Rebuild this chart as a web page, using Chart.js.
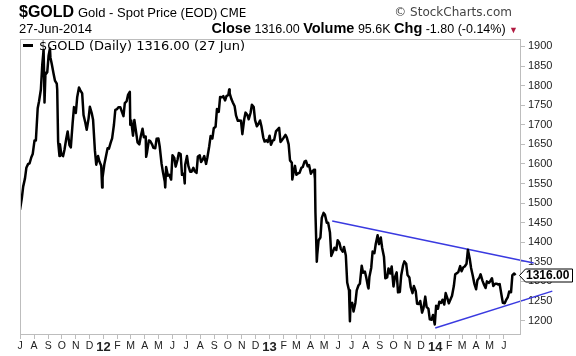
<!DOCTYPE html>
<html><head><meta charset="utf-8">
<script src="https://cdn.jsdelivr.net/npm/chart.js@4.4.1/dist/chart.umd.min.js"></script>
<style>
html,body{margin:0;padding:0;background:#fff;}
#wrap{position:relative;width:576px;height:356px;overflow:hidden;background:#fff;}
#c{position:absolute;left:0;top:0;}
.t{position:absolute;white-space:nowrap;font-family:"Liberation Sans",Arial,sans-serif;color:#000;line-height:1;}
</style></head><body>
<div id="wrap">
<canvas id="c" width="576" height="356"></canvas>
<div class="t" style="left:19px;top:4px;font-size:16px;font-weight:bold">$GOLD</div>
<div class="t" style="left:78px;top:6px;font-size:13px">Gold - Spot Price (EOD)</div>
<div class="t" style="left:220px;top:7px;font-size:12px;font-family:'DejaVu Sans',sans-serif">CME</div>
<div class="t" style="right:64px;top:6px;font-size:12px;color:#444;font-family:'DejaVu Sans',sans-serif">&copy; StockCharts.com</div>
<div class="t" style="left:19px;top:22px;font-size:13px">27-Jun-2014</div>
<div class="t" style="right:58px;top:21px;font-size:12.5px"><b style="font-size:14.5px">Close</b> 1316.00 <b style="font-size:14.5px">Volume</b> 95.6K <b style="font-size:14.5px">Chg</b> -1.80 (-0.14%) <span style="color:#b01a40;font-size:9px">&#9660;</span></div>
<div style="position:absolute;left:23px;top:44px;width:10px;height:3px;background:#000"></div>
<div class="t" style="left:39px;top:39px;font-size:13px;font-family:'DejaVu Sans',sans-serif">$GOLD (Daily) 1316.00 (27 Jun)</div>
</div>
<script>
// ---- data ----
const firstFriday = '2011-07-01';
// Friday closes, one per week from 1 Jul 2011 to 27 Jun 2014
const fridayClose = [
 1483,1542,1590,1601,1625,1660,1760,1852,1828,1876,1855,1813,1657,1624,1636,1683,1642,1745,1770,1788,
 1725,1687,1746,1713,1598,1606,1566,1617,1639,1665,1738,1745,1735,1755,1776,1711,1712,1655,1670,1668,
 1630,1658,1641,1664,1643,1579,1592,1572,1622,1593,1628,1572,1598,1595,1580,1581,1619,1605,1620,1617,
 1671,1691,1740,1771,1773,1773,1780,1757,1724,1711,1676,1731,1714,1751,1712,1701,1696,1657,1656,1649,
 1661,1687,1656,1667,1667,1609,1573,1572,1577,1592,1608,1597,1581,1477,1405,1462,1470,1450,1365,1386,
 1405,1383,1388,1297,1234,1223,1277,1294,1322,1310,1312,1376,1396,1395,1386,1308,1333,1338,1310,1272,
 1315,1351,1316,1285,1288,1243,1250,1231,1235,1203,1214,1238,1248,1253,1270,1244,1263,1318,1324,1326,
 1338,1381,1334,1295,1303,1318,1293,1300,1300,1288,1294,1293,1245,1252,1274,1316,1316
];
// Tuesday closes, the Tuesday after each Friday above (5 Jul 2011 to 24 Jun 2014)
const tuesdayClose = [
 1512,1563,1600,1617,1660,1742,1790,1835,1834,1872,
 1830,1805,1650,1620,1665,1648,1705,1730,1795,1780,
 1705,1715,1730,1635,1620,1595,1600,1640,1655,1700,
 1740,1745,1722,1760,1784,1672,1680,1650,1690,1670,
 1660,1650,1640,1665,1600,1555,1570,1560,1615,1610,
 1625,1575,1620,1580,1590,1577,1622,1612,1600,1645,
 1665,1695,1733,1770,1762,1776,1765,1747,1710,1710,
 1714,1725,1730,1745,1696,1711,1668,1660,1672,1660,
 1683,1692,1662,1674,1650,1603,1595,1576,1590,1606,
 1594,1575,1585,1368,1412,1475,1450,1425,1377,1380,
 1398,1376,1366,1277,1245,1245,1290,1340,1325,1285,
 1335,1372,1418,1412,1363,1310,1320,1287,1323,1273,
 1340,1345,1310,1270,1275,1242,1220,1261,1230,1202,
 1190,1230,1245,1241,1256,1255,1288,1321,1339,1336,
 1345,1358,1313,1280,1309,1302,1283,1296,1308,1294,
 1292,1265,1244,1260,1272,1320
];
// other notable sessions (spikes and lows)
const extraDates = ['2011-08-22','2011-08-24','2011-09-05','2011-09-21','2011-09-26','2011-12-29',
 '2012-02-29','2012-04-04','2012-05-16','2012-06-28','2012-10-04','2013-02-20','2013-04-11','2013-04-15',
 '2013-06-27','2013-08-07'];
const extraClose = [1891,1757,1895,1790,1620,1540,1700,1618,1540,1550,1790,1560,1562,1350,1198,1282];
const upperTrendDates = ['2013-05-19','2014-08-06'];
const upperTrendValues = [1454,1347];
const lowerTrendDates = ['2014-01-01','2014-09-16'];
const lowerTrendValues = [1181,1275];
const monthLabels = ['J','A','S','O','N','D','12','F','M','A','M','J','J','A','S','O','N','D',
 '13','F','M','A','M','J','J','A','S','O','N','D','14','F','M','A','M','J'];
const priceTicks = [1200,1250,1300,1350,1400,1450,1500,1550,1600,1650,1700,1750,1800,1850,1900];
const lastClose = 1316.00;

// ---- helpers ----
const DAY = 86400000;
const ORIGIN = Date.UTC(2011,6,1);
function dayNum(s){const [y,m,d]=s.split('-').map(Number);return (Date.UTC(y,m-1,d)-ORIGIN)/DAY;}
const f0 = dayNum(firstFriday);
let pts = fridayClose.map((v,i)=>({x:f0+7*i,y:v}));
tuesdayClose.forEach((v,i)=>pts.push({x:f0+7*i+4,y:v}));
extraDates.forEach((d,i)=>pts.push({x:dayNum(d),y:extraClose[i]}));
pts.sort((a,b)=>a.x-b.x);
const monthStarts = monthLabels.map((l,i)=>(Date.UTC(2011,6+i,1)-ORIGIN)/DAY);
const upper = upperTrendDates.map((d,i)=>({x:dayNum(d),y:upperTrendValues[i]}));
const lower = lowerTrendDates.map((d,i)=>({x:dayNum(d),y:lowerTrendValues[i]}));

const frame = {
  id:'frame',
  afterDraw(chart){
    const {ctx,chartArea:a,scales:{y}} = chart;
    ctx.save();
    ctx.strokeStyle='#bdbdbd';ctx.lineWidth=1;
    ctx.strokeRect(Math.round(a.left)+0.5,Math.round(a.top)+0.5,Math.round(a.right-a.left)-1,Math.round(a.bottom-a.top)-1);
    const py = Math.round(y.getPixelForValue(lastClose))+0.5;
    const x0 = 519.5, x1 = 525.5, x2 = 572.5, h = 6.5;
    ctx.beginPath();
    ctx.moveTo(x0,py);ctx.lineTo(x1,py-h);ctx.lineTo(x2,py-h);ctx.lineTo(x2,py+h);ctx.lineTo(x1,py+h);ctx.closePath();
    ctx.fillStyle='#fff';ctx.fill();ctx.strokeStyle='#000';ctx.lineWidth=1;ctx.stroke();
    ctx.fillStyle='#000';ctx.font='bold 12px "Liberation Sans", Arial, sans-serif';
    ctx.textBaseline='middle';ctx.textAlign='left';
    ctx.fillText(lastClose.toFixed(2),526,py+0.5);
    ctx.restore();
  }
};

new Chart(document.getElementById('c'),{
  type:'line',
  data:{datasets:[
    {data:pts,borderColor:'#000',borderWidth:2.5,pointRadius:0,tension:0,borderJoinStyle:'round'},
    {data:upper,borderColor:'#3a3ae0',borderWidth:1.5,pointRadius:0,clip:false},
    {data:lower,borderColor:'#3a3ae0',borderWidth:1.5,pointRadius:0,clip:false}
  ]},
  options:{
    responsive:false,animation:false,
    layout:{padding:{left:20,top:39,right:0,bottom:0}},
    plugins:{legend:{display:false},tooltip:{enabled:false}},
    scales:{
      x:{type:'linear',min:0,max:1104,
        afterBuildTicks:s=>{s.ticks=monthStarts.map(v=>({value:v}));},
        afterFit:s=>{s.height=21;},
        border:{display:false},
        grid:{drawOnChartArea:false,drawTicks:true,tickLength:4,color:'#bdbdbd'},
        ticks:{autoSkip:false,maxRotation:0,padding:1,color:'#222',
          callback:(v,i)=>monthLabels[i],
          font:c=>{const yr=/^\d/.test(monthLabels[c.index]||'');return {family:'"Liberation Sans", Arial, sans-serif',size:yr?13:10.5,weight:yr?'bold':'normal'};}}
      },
      y:{type:'linear',position:'right',min:1163,max:1919,
        afterBuildTicks:s=>{s.ticks=priceTicks.map(v=>({value:v}));},
        afterFit:s=>{s.width=55;},
        border:{display:false},
        grid:{drawOnChartArea:false,drawTicks:true,tickLength:4,color:'#bdbdbd'},
        ticks:{padding:3,color:'#222',font:{family:'"Liberation Sans", Arial, sans-serif',size:11},callback:v=>String(v)}
      }
    }
  },
  plugins:[frame]
});
</script>
</body></html>
